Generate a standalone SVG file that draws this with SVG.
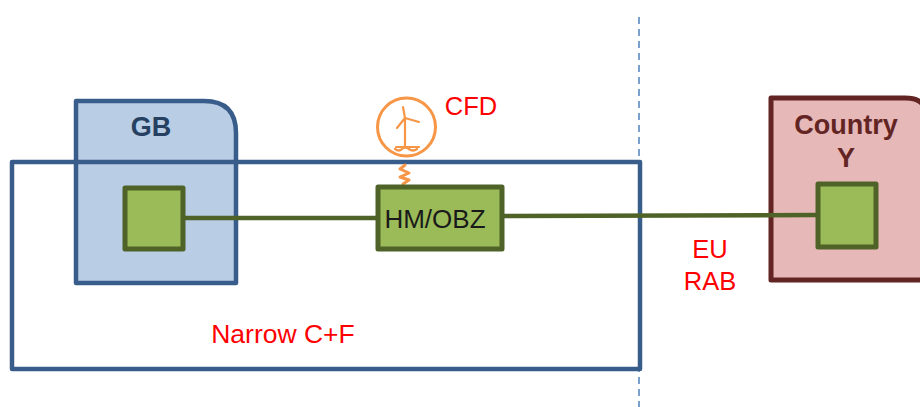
<svg xmlns="http://www.w3.org/2000/svg" width="920" height="407" viewBox="0 0 920 407">
<style>
.b{stroke:#385d8a;stroke-width:4.5;stroke-linejoin:round}
.g{fill:#9bbb59;stroke:#4f6228;stroke-width:5;stroke-linejoin:round}
.r{font:25.5px "Liberation Sans",Arial,sans-serif;fill:#ff0000;text-anchor:middle}
.o{fill:none;stroke:#f79646;stroke-linecap:round;stroke-linejoin:round}
.h{font:bold 27px "Liberation Sans",Arial,sans-serif;text-anchor:middle}
</style>
<rect width="920" height="407" fill="#fff"/>
<line id="border" x1="639" y1="17" x2="639" y2="408" stroke="#4f81bd" stroke-width="1.5" stroke-dasharray="7 5"/>
<g id="gb">
<path class="b" fill="#b9cde5" d="M76 101H204Q236 101 236 133V283H76Z"/>
<text class="h" x="151" y="136" fill="#254061">GB</text>
</g>
<g id="country-y">
<path fill="#e6b9b8" stroke="#632523" stroke-width="5" stroke-linejoin="round" d="M771 98H905Q921 98 925 108V280H771Z"/>
<text class="h" x="846" y="134" fill="#632523">Country</text>
<text class="h" x="846" y="167" fill="#632523">Y</text>
</g>
<g id="narrow-cf">
<rect class="b" x="12" y="162" width="628" height="207" fill="none"/>
<text class="r" x="283" y="343" style="font-size:26.5px">Narrow C+F</text>
</g>
<g id="connectors" fill="none" stroke="#4f6228" stroke-width="4.5">
<line x1="184" y1="218" x2="378" y2="218"/>
<line x1="502" y1="216" x2="818" y2="215"/>
</g>
<g id="wind">
<circle class="o" cx="406.500" cy="127" r="29" stroke-width="3" fill="#fff"/>
<path class="o" stroke-width="2.2" d="M405 118V147M403 107L405 118L419 122M405 118L397 128M396 147H419M395 149Q399 152 402 149T409 149T417 149"/>
<path class="o" stroke-width="3" d="M405 165L400 169L409 173L400 177L409 180L403 184"/>
<text class="r" x="471" y="115">CFD</text>
</g>
<g id="gb-node"><rect class="g" x="125" y="188" width="58" height="61"/></g>
<g id="hm-obz">
<rect class="g" x="378" y="187" width="124" height="62"/>
<text x="435" y="228" font-family="'Liberation Sans',Arial,sans-serif" font-size="26" text-anchor="middle" fill="#1a1a1a">HM/OBZ</text>
</g>
<g id="country-node"><rect class="g" x="818" y="184" width="58" height="63"/></g>
<g id="eu-rab">
<text class="r" x="710" y="258">EU</text>
<text class="r" x="710" y="290">RAB</text>
</g>
</svg>
